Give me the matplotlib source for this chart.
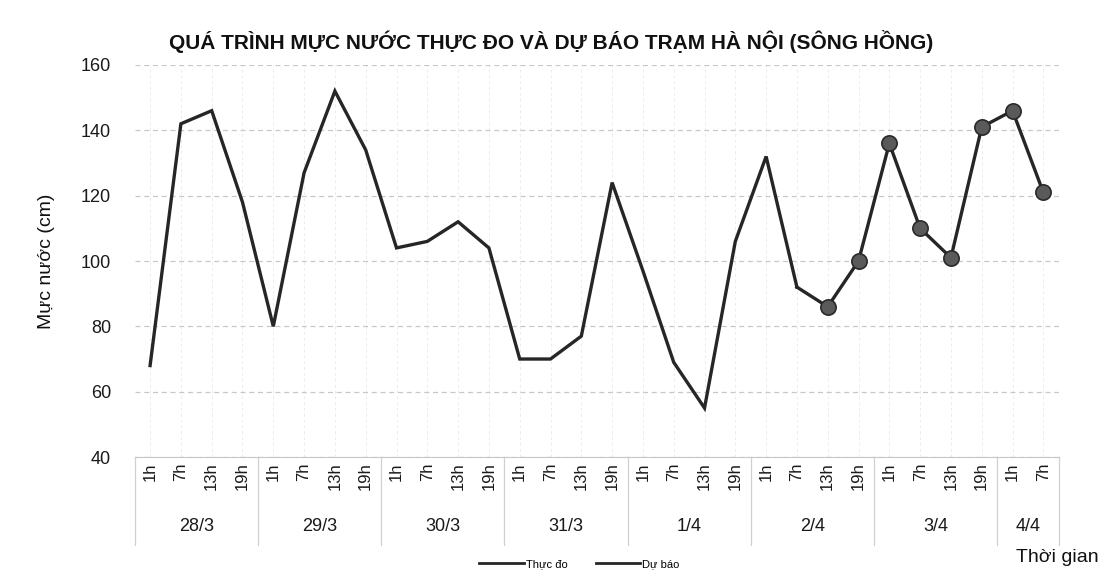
import matplotlib.pyplot as plt
import matplotlib.transforms as mtransforms
from matplotlib.lines import Line2D

plt.rcParams['font.family'] = ['Liberation Sans', 'DejaVu Sans']

# Dữ liệu
days = ['28/3', '29/3', '30/3', '31/3', '1/4', '2/4', '3/4', '4/4']
hours = ['1h', '7h', '13h', '19h']
hours_per_day = [4, 4, 4, 4, 4, 4, 4, 2]

thuc_do = [68, 142, 146, 118, 80, 127, 152, 134, 104, 106, 112, 104,
           70, 70, 77, 124, 97, 69, 55, 106, 132, 92]
du_bao = [86, 100, 136, 110, 101, 141, 146, 121]

tick_labels = []
for n in hours_per_day:
    tick_labels += hours[:n]

n_pts = len(tick_labels)
x_obs = list(range(len(thuc_do)))
x_fc = list(range(len(thuc_do) - 1, n_pts))
y_fc = [thuc_do[-1]] + du_bao

fig = plt.figure(figsize=(11.04, 5.8), dpi=100)
ax = fig.add_axes([0.122, 0.212, 0.837, 0.676])

line_col = '#262626'
ax.plot(x_obs, thuc_do, color=line_col, linewidth=2.4, solid_joinstyle='miter')
ax.plot(x_fc, y_fc, color=line_col, linewidth=2.4, marker='o', markersize=11,
        markerfacecolor='#5a5a5a', markeredgecolor='#2a2a2a', markeredgewidth=1.2,
        markevery=list(range(1, len(y_fc))))

ax.set_xlim(-0.5, n_pts - 0.5)
ax.set_ylim(40, 160)
ax.set_yticks(range(40, 161, 20))
ax.set_xticks(range(n_pts))
ax.set_xticklabels(tick_labels, rotation=90, fontsize=12, color='#1a1a1a')
ax.tick_params(axis='x', length=0, pad=4)
ax.tick_params(axis='y', length=0, pad=17, labelsize=13, labelcolor='#1a1a1a')

ax.grid(axis='y', color='#c8c8c8', linestyle=(0, (4, 3)), linewidth=0.9)
ax.grid(axis='x', color='#ececec', linestyle=(0, (3, 3)), linewidth=0.7)
ax.set_axisbelow(True)
for s in ['top', 'right', 'left']:
    ax.spines[s].set_visible(False)
ax.spines['bottom'].set_color('#c8c8c8')

# Nhãn ngày và đường phân cách
trans = mtransforms.blended_transform_factory(ax.transData, ax.transAxes)
start = 0
for d, n in zip(days, hours_per_day):
    ax.text(start + (n - 1) / 2, -0.177, d, transform=trans, ha='center', va='center',
            fontsize=13, color='#1a1a1a')
    ax.plot([start - 0.5, start - 0.5], [0, -0.225], transform=trans, color='#d0d0d0',
            linewidth=0.9, clip_on=False)
    start += n
ax.plot([start - 0.5, start - 0.5], [0, -0.225], transform=trans, color='#d0d0d0',
        linewidth=0.9, clip_on=False)

fig.text(0.499, 0.928, 'QUÁ TRÌNH MỰC NƯỚC THỰC ĐO VÀ DỰ BÁO TRẠM HÀ NỘI (SÔNG HỒNG)',
         ha='center', va='center', fontsize=15, fontweight='bold', color='#111111')
fig.text(0.042, 0.55, 'Mực nước (cm)', rotation=90, ha='center', va='center',
         fontsize=14, color='#111111')
fig.text(0.995, 0.038, 'Thời gian', ha='right', va='center', fontsize=14, color='#111111')

handles = [Line2D([], [], color=line_col, linewidth=2),
           Line2D([], [], color=line_col, linewidth=2)]
fig.legend(handles, ['Thực đo', 'Dự báo'], loc='center', bbox_to_anchor=(0.525, 0.028),
           ncol=2, frameon=False, fontsize=8, handlelength=4, handletextpad=0.2,
           columnspacing=2.5)

fig.savefig('out.png', dpi=100, facecolor='white')
